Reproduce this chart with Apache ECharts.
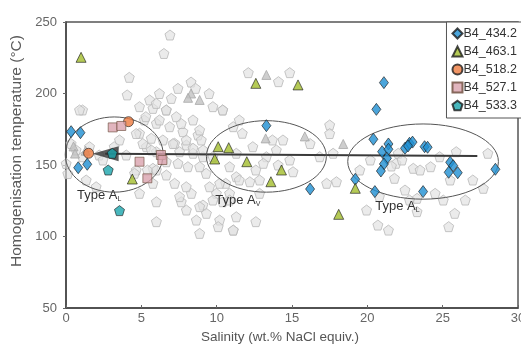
<!DOCTYPE html>
<html><head><meta charset="utf-8">
<script src="https://cdn.jsdelivr.net/npm/echarts@6/dist/echarts.min.js"></script>
<style>html,body{margin:0;padding:0;background:#fff}#c{width:521px;height:344px}</style>
</head><body><div id="c"></div>
<script>
const xTicks = [0,5,10,15,20,25,30];
const yTicks = [50,100,150,200,250];

const s434 = [[0.34,173.3],[0.96,172.6],[0.81,148.1],[1.41,150.5],[13.3,177.5],[16.2,133.2],[21.1,207.6],[20.6,188.9],[20.4,168],[20.98,159.3],[21.4,164.7],[21.4,161],[21.3,154.7],[21.1,150.7],[20.9,145.8],[22.5,161.7],[22.8,165.2],[23.0,166],[22.7,163.3],[23.8,162.8],[24.0,162.4],[25.5,151.9],[25.7,149.5],[25.4,144.9],[26.0,144.6],[28.5,147],[23.7,131.4],[20.5,131.4],[19.2,140]];
const s463 = [[1.0,225.3],[12.6,207.1],[15.4,206],[10.1,162.8],[10.8,162.1],[9.87,154.2],[12.0,152.3],[14.3,146.5],[13.6,138.3],[4.4,140.2],[19.2,133.7],[18.1,115.5]];
const s518 = [[1.5,158.2],[4.15,180.3]];
const s527 = [[3.1,176.3],[3.67,177.3],[4.88,152.3],[6.3,157],[6.4,153.5],[5.4,140.7]];
const s533 = [[3.07,158.2],[2.8,146.5],[3.55,118.1]];

const grayPent = [[6.9,240.9],[6.5,228],[4.2,211.3],[4.06,199],[1.1,188.5],[8.3,208],[8.6,203.6],[9.5,200],[12.1,214.6],[14.1,208.3],[14.85,214.6],[17.5,178],
[5.55,195.5],[6.2,200],[6.99,196.6],[7.43,203.6],[4.88,190.8],[5.77,189.6],[6.66,188.5],[7.32,183.8],[10.4,188.5],[8.43,181.5],[5.2,181.5],[6.0,179.2],[6.88,176.8],[7.76,173.3],[8.76,171],[4.88,172.2],[5.66,168.7],[6.43,167.5],[7.21,165.2],[7.99,164],[8.98,167.5],[5.33,162.8],[6.0,159.3],[7.54,159.3],[8.43,158.2],[9.09,155.8],[6.66,152.3],[7.43,151.2],[8.09,148.8],[5.77,147.7],[4.66,146.5],[6.66,143],[7.21,137.2],[8.32,130.2],[7.65,124.3],[9.09,122],[6.0,124.3],[9.32,116.2],[7.99,118.5],[8.65,111.5],[10.2,111.5],[11.1,104.5],[8.87,102.2],[9.98,130.2],[10.86,130.2],[10.4,124.3],[9.53,134.8],[10.6,137.2],[11.3,141.8],
[0.12,144],[0.34,165],[0.67,160.5],[1.1,155.8],[1.56,162.8],[2.2,157],[0.9,188.5],[1.34,139.5],[2.0,134.8],[0.01,151],[2.45,153.5],[3.55,167.5],[3.2,162.8],[4.0,157],[4.66,172],[5.1,165],[5.66,160.5],[6.0,146.5],[5.4,146.5],[4.55,144.2],[5.77,137.2],[6.0,110.4],[4.88,130.2],[7.54,127.9],[7.98,134.8],[7.1,165],[7.98,167.5],[8.43,161.7],[8.87,174.5],[7.65,179],[6.65,188.5],[5.99,193.1],[6.2,181.5],[5.3,183.8],
[11.1,176.8],[11.7,172.2],[12.4,162.8],[11.3,158.2],[10.86,148.8],[11.5,139.5],[12.2,138.3],[12.85,139.5],[12.6,146.5],[13.3,155.8],[13.96,160.5],[14.4,167.5],[13.7,167.5],[13.1,151.2],[14.85,153.5],[15.07,145.3],[14.08,150],[12.85,130.2],[12.6,110.4],[10.86,125.5],[11.3,113.8],[11.1,104.5],[10.1,106.9],[9.75,125.5],[8.87,120.9],[10.2,137.2],[9.75,155.8],[9.3,144.2],[8.87,148.8],[9.1,160.5],[10.4,188.5],[9.75,190.8],[11.5,181.5],
[16.2,165],[16.84,155.8],[17.5,172],[17.3,137.2],[17.95,138.3],[17.73,158.2],[19.95,118.5],[20.7,108],[21.4,104.5],[20.8,127.9],[21.8,140.7],[21.9,151.2],[22.5,132.5],[23.3,126.7],[23.3,117.4],[23.05,147.7],[22.8,125.5],[24.5,130.2],[25.04,125.5],[25.4,106.9],[25.8,116.2],[26.5,125.5],[27.0,139.5],[27.7,133.7],[28.0,158.2],[25.9,159.3],[24.8,155.8],[24.2,148.8],[25.5,139.5],[21.6,149.3],[22.05,158.2],[22.3,153.5],[23.5,146.5],[20.2,153.5],[19.5,146.5]];
const grayTri = [[0.5,163],[0.6,158],[1.3,160],[8.3,200],[8.87,195.5],[13.3,213],[13.25,168.6],[15.85,170],[18.4,164.7],[8.1,197]];

const trendLine = [[27.3,156.3],[2.6,157.8]];
const arrowHead = [[2.63,157.8]];

const ellipses = [ {cx:3.2,cy:157.3,rx:3.25,ry:26.3}, {cx:13.3,cy:156,rx:3.98,ry:25}, {cx:23.7,cy:152.4,rx:5.0,ry:26.3} ];
const typeLabels = [ {x:2.2,y:129,sub:'L'}, {x:11.4,y:125.5,sub:'V'}, {x:22.0,y:121,sub:'L'} ];

const pent = 'path://M50,0 L97.6,34.5 L79.4,90.5 L20.6,90.5 L2.4,34.5 Z';
const FONT = 'Liberation Sans';

const chart = echarts.init(document.getElementById('c'));
const bd = {borderColor:'#1a1a1a', borderWidth:0.8};
chart.setOption({
  animation:false,
  textStyle:{fontFamily:FONT},
  grid:{left:66, right:3, top:22, bottom:36, show:true, borderColor:'#555', borderWidth:1.5,
    containLabel:false, outerBoundsMode:'none'},
  xAxis:{type:'value', min:0, max:30, interval:5,
    name:'Salinity (wt.% NaCl equiv.)', nameLocation:'middle', nameGap:22,
    nameTextStyle:{color:'#555', fontSize:13.5, padding:[0,24,0,0]},
    axisLine:{show:true, onZero:false, lineStyle:{color:'#444', width:1.5}},
    axisTick:{show:true, inside:true, length:3, lineStyle:{color:'#666'}},
    axisLabel:{color:'#666', fontSize:13, margin:4, formatter:v=>xTicks.includes(v)?String(v):''},
    splitLine:{show:false}},
  yAxis:{type:'value', min:50, max:250, interval:50,
    name:'Homogenisation temperature (°C)', nameLocation:'middle', nameGap:38,
    nameTextStyle:{color:'#5a5a5a', fontSize:15.5, padding:[0,0,0,28]},
    axisLine:{show:true, onZero:false, lineStyle:{color:'#444', width:1.5}},
    axisTick:{show:true, length:3, lineStyle:{color:'#666'}},
    axisLabel:{color:'#666', fontSize:13, margin:9, formatter:v=>yTicks.includes(v)?String(v):''},
    splitLine:{show:false}},
  legend:{orient:'vertical', right:-2, top:22, itemWidth:10, itemHeight:10, itemGap:5,
    padding:[5,6,6,5], borderColor:'#555', borderWidth:1, backgroundColor:'#fff',
    textStyle:{fontSize:12.5, color:'#333', padding:[0,0,0,-4]},
    data:['B4_434.2','B4_463.1','B4_518.2','B4_527.1','B4_533.3']},
  series:[
    {type:'scatter', name:'gray', data:grayPent, symbol:pent, symbolSize:10, z:2,
      itemStyle:{color:'rgba(225,225,225,0.85)', borderColor:'#b8b8b8', borderWidth:1}},
    {type:'scatter', name:'graytri', data:grayTri, symbol:'triangle', symbolSize:9, z:2,
      itemStyle:{color:'#c2c2c2', borderColor:'#a8a8a8', borderWidth:1}},
    {type:'line', name:'trend', data:trendLine, symbol:'none', z:3,
      lineStyle:{color:'#3a3a3a', width:2}},
    {type:'scatter', name:'arrow', data:arrowHead, symbol:'triangle', symbolSize:[15,26], symbolRotate:90, z:3,
      itemStyle:{color:'#333'}},
    {type:'scatter', name:'B4_434.2', data:s434, symbol:'diamond', symbolSize:[9,12], z:5,
      itemStyle:Object.assign({color:'#1e8fd2'},bd)},
    {type:'scatter', name:'B4_463.1', data:s463, symbol:'triangle', symbolSize:[10,10], z:5,
      itemStyle:Object.assign({color:'#a2bd2c'},bd)},
    {type:'scatter', name:'B4_518.2', data:s518, symbol:'circle', symbolSize:10, z:5,
      itemStyle:Object.assign({color:'#ee7a3e'},bd)},
    {type:'scatter', name:'B4_527.1', data:s527, symbol:'rect', symbolSize:9, z:5,
      itemStyle:Object.assign({color:'#d9a2ae'},{borderColor:'#6b4b3b', borderWidth:0.8})},
    {type:'scatter', name:'B4_533.3', data:s533, symbol:pent, symbolSize:10, z:5,
      itemStyle:Object.assign({color:'#1aa5ad'},bd)}
  ]
});

const g = [];
ellipses.forEach(e=>{
  const c = chart.convertToPixel({gridIndex:0},[e.cx,e.cy]);
  const r = chart.convertToPixel({gridIndex:0},[e.cx+e.rx,e.cy+e.ry]);
  g.push({type:'ellipse', shape:{cx:c[0], cy:c[1], rx:Math.abs(r[0]-c[0]), ry:Math.abs(r[1]-c[1])},
    style:{fill:'none', stroke:'#555', lineWidth:1}, z:4, silent:true});
});
typeLabels.forEach(t=>{
  const p = chart.convertToPixel({gridIndex:0},[t.x,t.y]);
  g.push({type:'text', x:p[0], y:p[1], z:6,
    style:{text:'Type A{s|'+t.sub+'}', fill:'#333', font:'13px '+FONT, align:'center', verticalAlign:'middle',
      rich:{s:{fontSize:7, fill:'#333', padding:[8,0,0,0]}}}});
});
chart.setOption({graphic:g});
</script>
</body></html>
